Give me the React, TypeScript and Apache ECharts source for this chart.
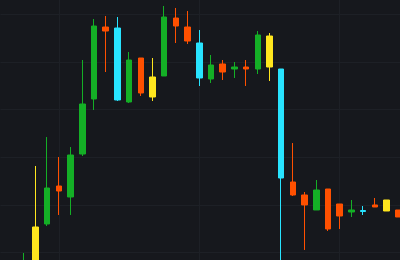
import React, { useEffect, useRef } from 'react';
import * as echarts from 'echarts';

const categories = Array.from({ length: 36 }, (_, i) => `B${i + 1}`);

// palette names per candle (null = empty slot)
const candleColors = [
  null, null,
  'green', 'yellow', 'green', 'orange', 'green', 'green', 'green', 'orange', 'cyan', 'green',
  'orange', 'yellow', 'green', 'orange', 'orange', 'cyan', 'green', 'orange', 'green', 'orange',
  'green', 'yellow', 'cyan', 'orange', 'orange', 'green', 'orange', 'orange', 'green', 'cyan',
  'orange', 'yellow', 'orange',
  null,
];

const opens = [
  null, null,
  95.2, 97.5, 105.99, 113.97, 111.66, 120.69, 132.25, 147.37, 147.16, 131.62,
  140.86, 132.67, 137.08, 149.26, 147.37, 144.01, 136.45, 139.6, 138.55, 138.97,
  138.55, 138.97, 138.55, 114.81, 112.08, 108.93, 113.34, 110.19, 108.51, 108.61,
  109.99, 108.72, 108.93,
  null,
];
const closes = [
  null, null,
  97.9, 105.36, 113.55, 112.92, 120.48, 131.2, 147.58, 146.53, 132.04, 140.44,
  133.51, 136.87, 149.47, 147.58, 144.43, 136.66, 139.39, 137.92, 138.97, 138.55,
  145.69, 145.48, 115.65, 112.08, 109.99, 113.13, 104.94, 107.67, 108.93, 108.82,
  109.56, 111.03, 107.46,
  null,
];
const lows = [
  null, null,
  94.6, 96.8, 105.57, 107.88, 107.88, 120.27, 129.94, 137.92, 131.83, 131.41,
  132.88, 131.83, 137.08, 144.01, 143.8, 134.98, 135.61, 136.24, 136.66, 134.98,
  137.5, 136.03, 95.5, 111.87, 100.53, 108.93, 104.52, 104.94, 107.46, 107.88,
  109.56, 108.72, 107.46,
  null,
];
const highs = [
  null, null,
  99.9, 118.17, 124.26, 120.06, 122.16, 140.44, 149.05, 149.68, 149.47, 142.12,
  140.86, 140.86, 151.79, 151.37, 150.74, 146.74, 141.49, 140.44, 140.02, 140.44,
  146.53, 146.11, 138.55, 123.0, 112.71, 115.23, 113.34, 110.19, 111.03, 109.77,
  111.45, 111.03, 108.93,
  null,
];

const palette: Record<string, string> = {
  green: '#14af26',
  orange: '#ff5000',
  cyan: '#28e4ff',
  yellow: '#ffe61e',
};

export default function App() {
  const ref = useRef<HTMLDivElement>(null);

  useEffect(() => {
    if (!ref.current) return;
    const chart = echarts.init(ref.current, null, { renderer: 'svg' });

    const data = categories.map((_, i) => {
      const key = candleColors[i];
      if (key == null || opens[i] == null) return '-';
      const c = palette[key];
      return {
        value: [opens[i], closes[i], lows[i], highs[i]],
        itemStyle: { color: c, color0: c, borderColor: c, borderColor0: c, borderWidth: 1 },
      };
    });

    chart.setOption({
      animation: false,
      backgroundColor: '#16181d',
      grid: { left: 20.4, right: 10.1, top: 6.9, bottom: 9.9, containLabel: false },
      xAxis: {
        type: 'category',
        data: categories,
        boundaryGap: false,
        axisLine: { show: false },
        axisTick: { show: false },
        axisLabel: { show: false },
        splitLine: {
          show: true,
          interval: (index: number) => (index - 5) % 12 === 0,
          lineStyle: { color: '#1d2026', width: 1 },
        },
      },
      yAxis: {
        type: 'value',
        min: 90,
        max: 160,
        interval: 10,
        axisLine: { show: false },
        axisTick: { show: false },
        axisLabel: { show: false },
        splitLine: { show: true, lineStyle: { color: '#1d2026', width: 1 } },
      },
      series: [
        {
          type: 'candlestick',
          barWidth: 6,
          clip: false,
          data,
        },
      ],
    });

    return () => chart.dispose();
  }, []);

  return (
    <div
      ref={ref}
      style={{ position: 'fixed', left: -20, top: -40, width: 440, height: 350 }}
    />
  );
}
